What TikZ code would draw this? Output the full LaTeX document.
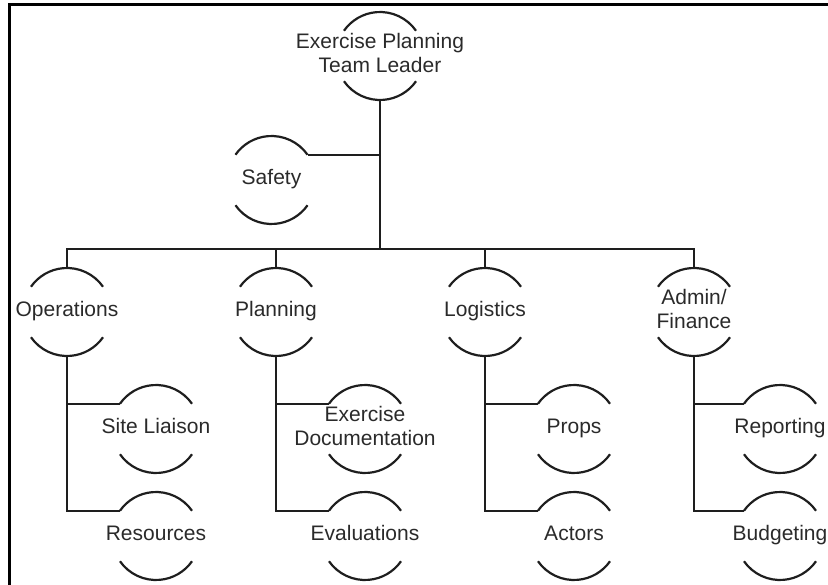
\documentclass[tikz,border=0pt]{standalone}
\usepackage{fontspec}
\setmainfont{Liberation Sans}
\usetikzlibrary{positioning}

\definecolor{linegray}{HTML}{1E1E1E}
\definecolor{textgray}{HTML}{2A2A2A}
\newcommand{\unittext}[1]{\makebox[0pt]{\begin{tabular}{@{}c@{}}#1\end{tabular}}}

\begin{document}
\begin{tikzpicture}[x=1pt,y=1pt,on grid,line width=2.2pt,color=linegray,
					unit/.style={circle,minimum size=88pt,inner sep=0pt,outer sep=0pt,
					text=textgray,font=\fontsize{21}{24}\selectfont}]
	\useasboundingbox (0,0) rectangle (828,-585);
	\draw[line width=3pt,black] (9.5,-585) -- (9.5,-4.5) -- (828,-4.5);

	\node[unit] (lead) at (380,-56) {\unittext{Exercise Planning\\Team Leader}};
	\node[unit] (safety) [below left=124pt and 108.5pt of lead] {\unittext{Safety}};
	\node[unit] (ops) [below left=256pt and 313pt of lead] {\unittext{Operations}};
	\node[unit] (plan) [right=209pt of ops] {\unittext{Planning}};
	\node[unit] (logi) [right=209pt of plan] {\unittext{Logistics}};
	\node[unit] (admin) [right=209pt of logi] {\unittext{Admin/\\Finance}};
	\node[unit] (site) [below right=117pt and 89pt of ops] {\unittext{Site Liaison}};
	\node[unit] (res) [below=107pt of site] {\unittext{Resources}};
	\node[unit] (doc) [below right=117pt and 89pt of plan] {\unittext{Exercise\\Documentation}};
	\node[unit] (eval) [below=107pt of doc] {\unittext{Evaluations}};
	\node[unit] (props) [below right=117pt and 89pt of logi] {\unittext{Props}};
	\node[unit] (actors) [below=107pt of props] {\unittext{Actors}};
	\node[unit] (report) [below right=117pt and 86pt of admin] {\unittext{Reporting}};
	\node[unit] (budget) [below=107pt of report] {\unittext{Budgeting}};

	\foreach \n in {lead,safety,ops,plan,logi,admin,site,res,doc,eval,props,actors,report,budget}
		\draw (\n.35) arc[start angle=35,end angle=145,radius=44pt]
			(\n.215) arc[start angle=215,end angle=325,radius=44pt];

	\coordinate (bus) at ([yshift=19pt]ops.north);
	\draw (lead.south) -- (lead.south |- bus);
	\draw (safety.35) -- (safety.35 -| lead.south);
	\draw (ops.north) -- (bus) -- (admin.north |- bus) -- (admin.north);
	\foreach \n in {plan,logi}
		\draw (\n.north) -- (\n.north |- bus);
	\foreach \p/\a/\b in {ops/site/res,plan/doc/eval,logi/props/actors,admin/report/budget}
		\draw (\p.south) |- (\a.145) (\p.south) |- (\b.145);
\end{tikzpicture}
\end{document}
